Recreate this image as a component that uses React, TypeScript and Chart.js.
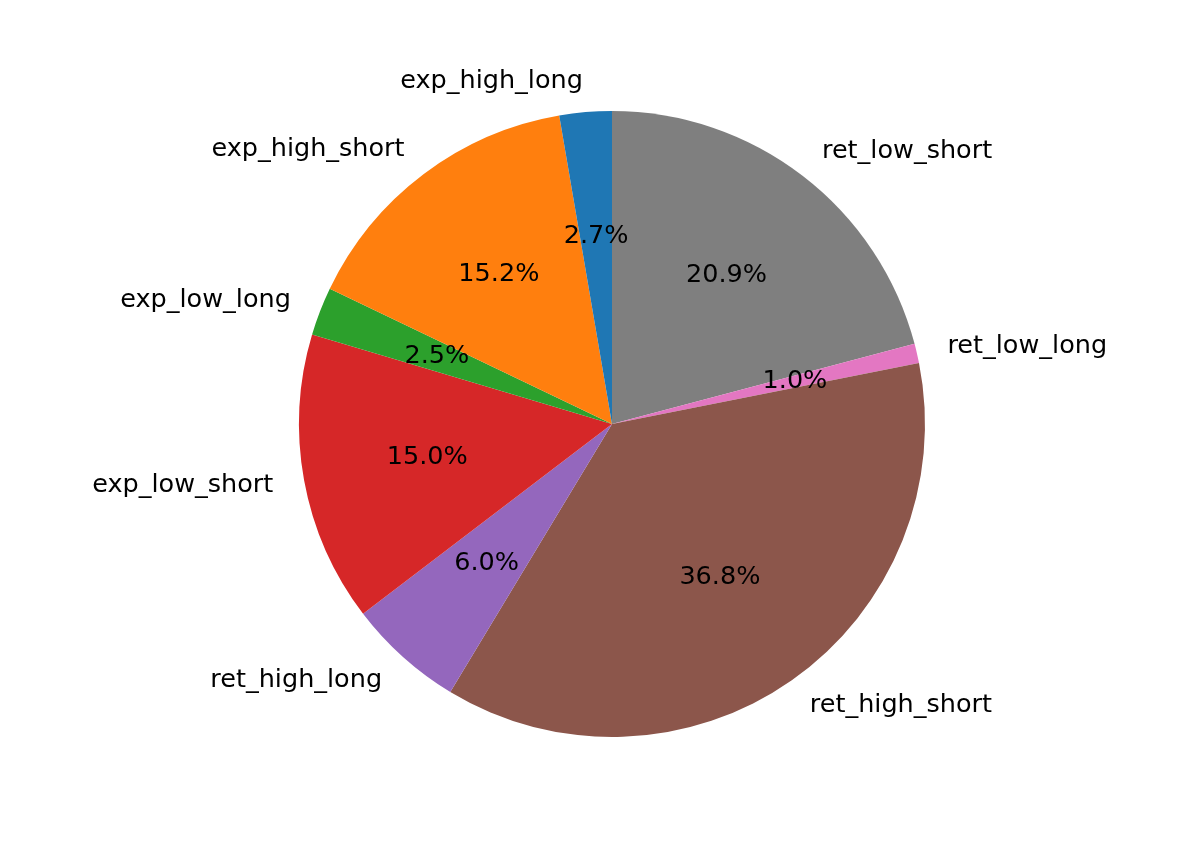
import React, { useEffect, useRef } from "react";
import { Chart, registerables } from "chart.js";

Chart.register(...registerables);

// matplotlib order (counter-clockwise from top)
const labels = [
  "exp_high_long",
  "exp_high_short",
  "exp_low_long",
  "exp_low_short",
  "ret_high_long",
  "ret_high_short",
  "ret_low_long",
  "ret_low_short",
];
const values = [2.7, 15.2, 2.5, 15.0, 6.0, 36.8, 1.0, 20.9];
const colors = [
  "#1f77b4",
  "#ff7f0e",
  "#2ca02c",
  "#d62728",
  "#9467bd",
  "#8c564b",
  "#e377c2",
  "#7f7f7f",
];

const FONT = '25.5px "DejaVu Sans"';

const labelPlugin = {
  id: "mplLabels",
  afterDatasetsDraw(chart: any) {
    const ctx = chart.ctx;
    const meta = chart.getDatasetMeta(0);
    const total = values.reduce((a, b) => a + b, 0);
    ctx.save();
    ctx.font = FONT;
    ctx.fillStyle = "#000000";
    ctx.textBaseline = "middle";
    meta.data.forEach((arc: any, i: number) => {
      const { x, y, startAngle, endAngle, outerRadius } = arc.getProps(
        ["x", "y", "startAngle", "endAngle", "outerRadius"],
        true
      );
      const mid = (startAngle + endAngle) / 2;
      const c = Math.cos(mid);
      const s = Math.sin(mid);
      const lx = x + 1.1 * outerRadius * c;
      const ly = y + 1.1 * outerRadius * s;
      ctx.textAlign = c > 0 ? "left" : "right";
      ctx.fillText(chart.data.labels[i], lx, ly);
      const px = x + 0.6 * outerRadius * c;
      const py = y + 0.6 * outerRadius * s;
      ctx.textAlign = "center";
      const v = chart.data.datasets[0].data[i];
      ctx.fillText(((v / total) * 100).toFixed(1) + "%", px, py);
    });
    ctx.restore();
  },
};

export default function App() {
  const ref = useRef<HTMLCanvasElement | null>(null);
  useEffect(() => {
    document.body.style.margin = "0";
    const rl = [...labels].reverse();
    const rv = [...values].reverse();
    const rc = [...colors].reverse();
    const chart = new Chart(ref.current!, {
      type: "pie",
      data: {
        labels: rl,
        datasets: [
          {
            data: rv,
            backgroundColor: rc,
            borderWidth: 0,
          },
        ],
      },
      options: {
        responsive: false,
        animation: false,
        rotation: 0,
        layout: { padding: { left: 299, right: 271, top: 111, bottom: 104 } },
        plugins: {
          legend: { display: false },
          tooltip: { enabled: false },
        },
      },
      plugins: [labelPlugin],
    });
    return () => chart.destroy();
  }, []);
  return (
    <div style={{ width: 1196, height: 841, background: "#fff" }}>
      <canvas ref={ref} width={1196} height={841} />
    </div>
  );
}
